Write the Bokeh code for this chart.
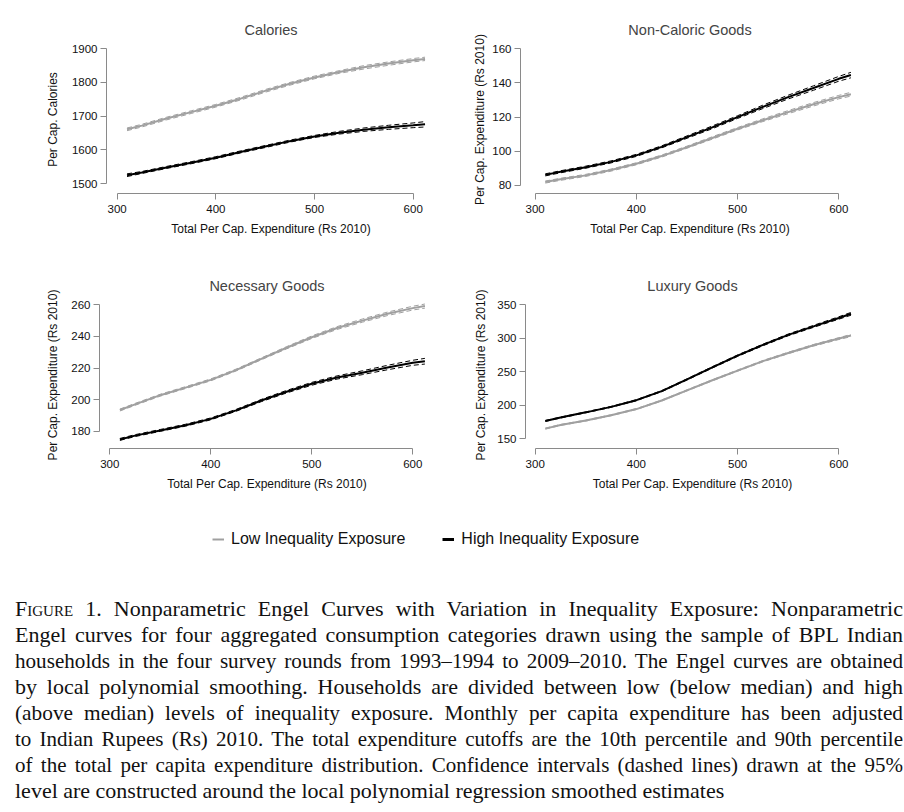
from bokeh.plotting import figure
from bokeh.layouts import column, row
from bokeh.models import Legend, LegendItem, Div
from bokeh.embed import file_html
from bokeh.resources import INLINE

# ---------------- data ----------------
expenditure = [310, 325, 350, 375, 400, 425, 450, 475, 500, 525, 550, 575, 600, 612]
x_ticks = [300, 400, 500, 600]

# Calories
cal_low = [1661, 1672, 1693, 1712, 1731, 1752, 1775, 1796, 1815, 1831, 1845, 1856, 1866, 1870]
cal_low_lo = [1657, 1668, 1689, 1708, 1727, 1748, 1771, 1792, 1811, 1827, 1840, 1851, 1861, 1865]
cal_low_hi = [1665, 1676, 1697, 1716, 1735, 1756, 1779, 1800, 1819, 1835, 1850, 1861, 1871, 1875]
cal_high = [1525, 1533, 1548, 1562, 1577, 1594, 1610, 1626, 1640, 1651, 1660, 1667, 1673, 1676]
cal_high_lo = [1521, 1530, 1545, 1559, 1574, 1591, 1607, 1623, 1637, 1647, 1655, 1661, 1666, 1668]
cal_high_hi = [1529, 1536, 1551, 1565, 1580, 1597, 1613, 1629, 1643, 1655, 1665, 1673, 1680, 1684]
cal_ticks = [1500, 1600, 1700, 1800, 1900]

# Non-Caloric Goods
nc_low = [82.0, 83.6, 85.9, 89.0, 92.7, 97.2, 102.4, 107.8, 113.2, 118.2, 122.9, 127.5, 131.7, 133.4]
nc_low_lo = [81.4, 83.0, 85.3, 88.4, 92.1, 96.6, 101.8, 107.1, 112.5, 117.4, 122.0, 126.5, 130.7, 132.3]
nc_low_hi = [82.6, 84.2, 86.5, 89.6, 93.3, 97.8, 103.0, 108.5, 113.9, 119.0, 123.8, 128.5, 132.7, 134.5]
nc_high = [86.2, 88.0, 90.7, 93.8, 97.6, 102.6, 108.3, 114.0, 120.0, 126.0, 131.7, 137.0, 142.4, 144.6]
nc_high_lo = [85.6, 87.4, 90.1, 93.2, 97.0, 102.0, 107.6, 113.2, 119.2, 125.0, 130.6, 135.7, 141.0, 143.0]
nc_high_hi = [86.8, 88.6, 91.3, 94.4, 98.2, 103.2, 109.0, 114.8, 120.8, 127.0, 132.8, 138.3, 143.8, 146.2]
nc_ticks = [80, 100, 120, 140, 160]

# Necessary Goods
nec_low = [193.4, 197.0, 202.8, 207.6, 212.5, 218.7, 225.8, 232.8, 239.5, 245.3, 250.0, 254.3, 257.9, 259.2]
nec_low_lo = [192.8, 196.4, 202.2, 207.0, 211.9, 218.1, 225.2, 232.1, 238.7, 244.4, 249.0, 253.2, 256.7, 257.9]
nec_low_hi = [194.0, 197.6, 203.4, 208.2, 213.1, 219.3, 226.4, 233.5, 240.3, 246.2, 251.0, 255.4, 259.1, 260.5]
nec_high = [174.8, 177.2, 180.5, 183.8, 187.8, 193.2, 199.4, 205.0, 210.0, 214.0, 217.0, 220.3, 223.3, 224.3]
nec_high_lo = [174.2, 176.6, 179.9, 183.2, 187.2, 192.6, 198.7, 204.2, 209.1, 213.0, 215.8, 218.9, 221.7, 222.5]
nec_high_hi = [175.4, 177.8, 181.1, 184.4, 188.4, 193.8, 200.1, 205.8, 210.9, 215.0, 218.2, 221.7, 224.9, 226.1]
nec_ticks = [180, 200, 220, 240, 260]

# Luxury Goods
lux_low = [165.0, 170.5, 177.0, 185.0, 194.2, 207.0, 222.2, 237.2, 251.7, 265.8, 278.0, 289.5, 299.5, 304.0]
lux_low_lo = [164.3, 169.8, 176.3, 184.3, 193.5, 206.3, 221.4, 236.4, 250.8, 264.8, 276.9, 288.3, 298.1, 302.4]
lux_low_hi = [165.7, 171.2, 177.7, 185.7, 194.9, 207.7, 223.0, 238.0, 252.6, 266.8, 279.1, 290.7, 300.9, 305.6]
lux_high = [176.5, 181.5, 189.3, 197.5, 207.5, 221.0, 238.5, 256.5, 274.0, 290.0, 305.0, 317.8, 330.3, 336.5]
lux_high_lo = [175.8, 180.8, 188.6, 196.8, 206.7, 220.2, 237.6, 255.5, 272.9, 288.8, 303.7, 316.3, 328.5, 334.4]
lux_high_hi = [177.2, 182.2, 190.0, 198.2, 208.3, 221.8, 239.4, 257.5, 275.1, 291.2, 306.3, 319.3, 332.1, 338.6]
lux_ticks = [150, 200, 250, 300, 350]

titles = ["Calories", "Non-Caloric Goods", "Necessary Goods", "Luxury Goods"]
y_labels = ["Per Cap. Calories", "Per Cap. Expenditure (Rs 2010)",
            "Per Cap. Expenditure (Rs 2010)", "Per Cap. Expenditure (Rs 2010)"]
x_label = "Total Per Cap. Expenditure (Rs 2010)"
legend_labels = ["Low Inequality Exposure", "High Inequality Exposure"]

caption_lines = [
    "<span style='font-variant:small-caps'>Figure</span> 1. Nonparametric Engel Curves with Variation in Inequality Exposure: Nonparametric",
    "Engel curves for four aggregated consumption categories drawn using the sample of BPL Indian",
    "households in the four survey rounds from 1993\u20131994 to 2009\u20132010. The Engel curves are obtained",
    "by local polynomial smoothing. Households are divided between low (below median) and high",
    "(above median) levels of inequality exposure. Monthly per capita expenditure has been adjusted",
    "to Indian Rupees (Rs) 2010. The total expenditure cutoffs are the 10th percentile and 90th percentile",
    "of the total per capita expenditure distribution. Confidence intervals (dashed lines) drawn at the 95%",
    "level are constructed around the local polynomial regression smoothed estimates",
]
# horizontal condensing of each caption line (the original typesetting squeezes long lines)
caption_squeeze = [1.0, 1.0, 0.96, 1.0, 0.97, 0.955, 0.955, 1.0]

# ---------------- styling ----------------
GRAY = "#a0a0a0"
BLACK = "#000000"
AXIS = "#8a8a8a"
FONT = "Liberation Sans"


def panel(idx, series, yticks, x_rng, y_rng, w, h, bl, br, bt, bb, ylab_standoff):
    p = figure(width=w, height=h, x_range=x_rng, y_range=y_rng,
               min_border_left=bl, min_border_right=br,
               min_border_top=bt, min_border_bottom=bb,
               toolbar_location=None, output_backend="svg", title=titles[idx])
    p.title.align = "center"
    p.title.text_font = FONT
    p.title.text_font_style = "normal"
    p.title.text_font_size = "14.5px"
    p.title.standoff = 16
    p.outline_line_color = None
    p.grid.visible = False
    for (est, lo, hi), col in zip(series, [GRAY, BLACK]):
        p.line(expenditure, lo, line_color=col, line_width=1, line_dash="5 3")
        p.line(expenditure, hi, line_color=col, line_width=1, line_dash="5 3")
        p.line(expenditure, est, line_color=col, line_width=2)
    p.xaxis.ticker = x_ticks
    p.yaxis.ticker = yticks
    p.xaxis.bounds = (x_ticks[0], x_ticks[-1])
    p.yaxis.bounds = (yticks[0], yticks[-1])
    p.xaxis.axis_label = x_label
    p.yaxis.axis_label = y_labels[idx]
    for ax in (p.xaxis, p.yaxis):
        ax.axis_line_color = AXIS
        ax.major_tick_line_color = AXIS
        ax.minor_tick_line_color = None
        ax.major_tick_in = 0
        ax.major_tick_out = 6
        ax.major_label_text_font = FONT
        ax.major_label_text_font_size = "11.5px"
        ax.major_label_text_color = "#111111"
        ax.axis_label_text_font = FONT
        ax.axis_label_text_font_size = "12px"
        ax.axis_label_text_font_style = "normal"
        ax.axis_label_text_color = "#111111"
    p.xaxis.major_label_standoff = 5
    p.yaxis.major_label_standoff = 3
    p.xaxis.axis_label_standoff = 6
    p.yaxis.axis_label_standoff = ylab_standoff
    return p


p1 = panel(0, [(cal_low, cal_low_lo, cal_low_hi), (cal_high, cal_high_lo, cal_high_hi)],
           cal_ticks, (289.2, 622.6), (1470.7, 1909.7), 452, 265, 106, 17, 45, 70, 9)
p2 = panel(1, [(nc_low, nc_low_lo, nc_low_hi), (nc_high, nc_high_lo, nc_high_hi)],
           nc_ticks, (285.5, 620.5), (75.3, 161.9), 452, 265, 68, 45, 45, 72, 2)
p3 = panel(2, [(nec_low, nec_low_lo, nec_low_hi), (nec_high, nec_high_lo, nec_high_hi)],
           nec_ticks, (289.8, 621.5), (169.05, 262.1), 452, 245, 99, 18, 36, 62, 8)
p4 = panel(3, [(lux_low, lux_low_lo, lux_low_hi), (lux_high, lux_high_lo, lux_high_hi)],
           lux_ticks, (290.4, 620.4), (135.3, 354.9), 452, 245, 73, 45, 36, 60, 6)

# ---------------- legend strip ----------------
lg = figure(width=904, height=81, x_range=(0, 1), y_range=(0, 1), min_border=0,
            toolbar_location=None, output_backend="svg")
lg.axis.visible = False
lg.grid.visible = False
lg.outline_line_color = None
# legend-only renderers: their points lie outside the visible range
r_low = lg.line([-5, -4], [-5, -4], line_color=GRAY, line_width=2)
r_high = lg.line([-5, -4], [-5, -4], line_color=BLACK, line_width=3)
legend = Legend(items=[LegendItem(label=legend_labels[0], renderers=[r_low]),
                       LegendItem(label=legend_labels[1], renderers=[r_high])],
                orientation="horizontal", location=(212, 43), padding=0, margin=0,
                border_line_alpha=0, background_fill_alpha=0,
                label_text_font=FONT, label_text_font_size="16px", label_text_color="#111111",
                glyph_width=12, glyph_height=16, label_height=16, label_standoff=7, spacing=37)
lg.add_layout(legend)

# ---------------- caption ----------------
rows_html = []
for i, line in enumerate(caption_lines):
    last = i == len(caption_lines) - 1
    align = "left" if last else "justify"
    s = caption_squeeze[i]
    rows_html.append(
        f"<div style='width:{888 / s:.1f}px;transform:scaleX({s});transform-origin:left center;"
        f"text-align:{align};text-align-last:{align};white-space:nowrap'>{line}</div>")
caption_html = ("<div style=\"font-family:'Liberation Serif',serif;font-size:22px;line-height:26px;"
                "color:#111111;margin-left:10px\">" + "".join(rows_html) + "</div>")
caption = Div(text=caption_html, width=900, height=212)

layout = column(row(p1, p2), row(p3, p4), lg, caption)

open("out.html", "w").write(file_html(layout, INLINE))
